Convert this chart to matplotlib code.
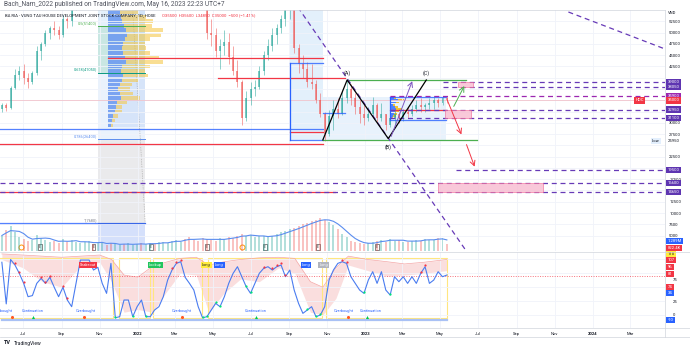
import matplotlib
matplotlib.use("Agg")
import matplotlib.pyplot as plt
import matplotlib.dates as mdates
from matplotlib.patches import Rectangle
from matplotlib.lines import Line2D
from matplotlib.ticker import FuncFormatter
import pandas as pd

plt.rcParams['font.family'] = ['Roboto', 'DejaVu Sans']

# HDC, weekly bars (close of each week)
week_start = '2021-05-28'
first_open = 33000
closes = [34000, 33200, 37800, 40500, 41500, 40000, 39000, 41000, 46000, 47500,
          50000, 51000, 50500, 49500, 53000, 52500, 55500, 57000, 58500, 60000,
          62000, 61000, 63500, 66000, 64500, 62000, 63500, 65000, 63000, 64500,
          67000, 69500, 68000, 71000, 73500, 72000, 74500, 77000, 79000, 82500,
          85000, 88000, 86000, 84500, 81000, 76000, 68000, 50000, 49500, 46000,
          47000, 48000, 44500, 41500, 39000, 31000, 35500, 37500, 38000, 41500,
          45000, 47000, 49500, 51000, 53000, 55000, 55500, 46500, 43000, 42000,
          39000, 38500, 35000, 32000, 27500, 31500, 33000, 32000, 35500, 37500,
          35500, 33500, 32000, 31000, 32000, 34000, 31000, 32000, 29500, 31000,
          32000, 31000, 32500, 32000, 33000, 34000, 33500, 34000, 34500, 35000,
          34500, 35500, 35000]
highs = [34500, 34500, 38200, 42000, 42500, 43000, 41000, 41500, 47000, 48000,
         50500, 51500, 52500, 51500, 54000, 53500, 56000, 58500, 60000, 61500,
         63500, 64000, 65000, 67500, 68000, 65500, 64500, 66000, 66500, 65500,
         68000, 70500, 71000, 72000, 75000, 76000, 76500, 78500, 81000, 84000,
         87000, 90000, 91000, 88000, 86000, 82000, 77000, 69000, 53000, 51000,
         48500, 50500, 50000, 47000, 44000, 39500, 37000, 39000, 39500, 42500,
         46000, 48500, 51000, 52000, 54000, 56000, 57000, 55500, 47500, 45000,
         43500, 43000, 39500, 36600, 32500, 32800, 35000, 35500, 37300, 39500,
         38500, 36500, 35000, 34000, 33500, 35800, 34500, 34500, 32000, 32500,
         33000, 32500, 33000, 33500, 34000, 35000, 35500, 34500, 35500, 36000,
         35500, 36000, 35900]
lows = [32500, 32700, 33000, 37500, 39500, 38500, 37800, 38500, 40500, 44000,
        47000, 48500, 49500, 48500, 49000, 51000, 51500, 55000, 56500, 57500,
        59000, 59500, 60000, 62500, 63000, 59500, 60000, 62000, 61500, 61000,
        63500, 66000, 66500, 67000, 70000, 70500, 71000, 73500, 76000, 78000,
        81500, 84000, 84500, 82000, 79000, 74000, 66000, 48500, 47000, 44500,
        42000, 45000, 43000, 40500, 38000, 29500, 30500, 34000, 36000, 37500,
        40500, 44000, 46000, 47500, 50000, 51500, 53000, 45500, 41000, 40000,
        37900, 37500, 34400, 31400, 25950, 27000, 28400, 31000, 31800, 34400,
        34000, 32000, 30000, 29500, 30500, 31500, 30000, 30500, 28500, 29000,
        29500, 30000, 30500, 31000, 31500, 32500, 32500, 32500, 33000, 33000,
        33500, 34000, 34500]
# volume, millions of shares
volumes = [1.8, 2.4, 2.9, 2.2, 1.6, 1.4, 1.2, 1.3, 1.9, 1.5,
           1.3, 1.1, 1.2, 0.9, 1.4, 1.0, 1.3, 1.1, 0.9, 1.0,
           1.2, 0.8, 0.9, 1.1, 0.7, 0.9, 0.8, 0.7, 0.8, 0.9,
           0.7, 0.8, 0.9, 0.8, 0.9, 0.8, 1.0, 1.1, 0.9, 1.2,
           1.3, 1.1, 1.4, 1.6, 1.3, 1.2, 1.5, 1.4, 1.3, 1.2,
           1.5, 1.4, 1.6, 1.5, 1.8, 2.0, 1.7, 1.9, 1.6, 1.8,
           1.7, 1.6, 1.8, 2.0, 2.2, 2.3, 2.5, 2.7, 2.9, 3.1,
           3.3, 3.5, 3.6, 3.8, 3.6, 3.4, 3.0, 2.6, 2.0, 1.6,
           1.2, 1.0, 0.9, 0.8, 0.9, 1.0, 1.2, 1.3, 1.1, 1.4,
           1.2, 1.3, 1.1, 1.0, 1.2, 1.3, 1.2, 1.4, 1.3, 1.3,
           1.5, 1.5336, 0.8224]
# oscillator (lower pane)
osc = [95, 20, 100, 90, 75, 57, 33, 35, 57, 66,
       57, 68, 50, 33, 50, 27, 15, 57, 99, 99,
       99, 81, 86, 57, 39, 93, -5, -3, 27, 27,
       -3, 15, 27, -3, -3, 9, 15, 33, 63, 81,
       93, 96, 68, 57, 45, 15, -5, -3, 9, 21,
       15, 33, 57, 75, 87, 69, 51, 39, 57, 75,
       84, 87, 81, 87, 90, 69, 81, 45, 21, 3,
       9, 15, -3, 0, 15, 63, 81, 93, 96, 93,
       69, 57, 45, 39, 63, 78, 57, 78, 45, 36,
       69, 60, 69, 57, 69, 57, 75, 87, 57, 63,
       78, 69, 72]
band_dates = ['2021-05-28', '2021-07-01', '2021-08-01', '2021-09-01', '2021-10-01', '2021-11-01',
              '2021-11-20', '2021-12-10', '2022-01-01', '2022-01-25', '2022-02-15', '2022-03-10',
              '2022-04-05', '2022-04-25', '2022-05-20', '2022-06-15', '2022-07-15', '2022-08-15',
              '2022-09-10', '2022-10-05', '2022-10-25', '2022-11-15', '2022-12-05', '2023-01-05',
              '2023-02-05', '2023-03-05', '2023-04-05', '2023-05-12']
band_hi = [110, 108, 106, 104, 106, 108, 100, 72, 68, 88, 95, 102, 104, 90,
           96, 100, 103, 104, 102, 60, 50, 85, 106, 100, 96, 92, 95, 100]
band_lo = [100, 85, 60, 50, 88, 95, 60, 5, 10, 5, 40, 75, 72, 5,
           40, 65, 60, 85, 75, 5, 0, 30, 90, 80, 70, 72, 75, 80]
red_dot_weeks = [3, 4, 5, 9, 10, 11, 14, 15, 39, 40, 41, 60, 62, 63, 64, 65, 78, 79, 96, 97]
green_dot_weeks = [26, 30, 33, 46, 47, 49, 50, 56, 57, 70, 72, 73, 83, 89]

# drawn levels
target_levels = [39000, 38050, 35900, 32950, 31100, 19500, 16600, 14650]
target_starts = ['2023-05-06', '2023-05-06', '2023-02-10', '2023-02-10', '2023-02-10',
                 '2023-05-27', '2021-05-25', '2021-05-25']
red_lines = [('2021-11-15', '2022-10-25', 44370), ('2022-05-10', '2022-11-30', 39930),
             ('2021-05-25', '2022-10-25', 25300), ('2021-05-25', '2022-11-14', 14650),
             ('2023-02-10', '2023-05-11', 32950), ('2022-09-02', '2022-10-25', 27960)]
blue_lines = [('2021-05-25', '2022-10-25', 28700), ('2021-05-25', '2022-01-13', 7680),
              ('2022-09-02', '2022-10-25', 43260), ('2022-10-25', '2022-11-30', 32180),
              ('2022-09-02', '2022-10-25', 26200), ('2023-02-10', '2023-05-11', 35720),
              ('2023-02-10', '2023-05-11', 30620)]
fib_levels = [51400, 41050, 26400, 7680]
fib_names = ['0.5', '0.618', '0.786', '1']
fib_start, fib_end = '2021-10-30', '2022-01-13'

# profile of the Nov 2021 - Jan 2022 range
vp_start = '2021-11-15'
vp_prices = [54500, 53500, 52500, 51500, 50500, 49500, 48500, 47500, 46500, 45500, 44500, 43500, 42500,
             41500, 40500, 39500, 38500, 37500, 36500, 35500, 34500, 33500, 32500, 31500, 30500, 29500]
vp_up = [18, 20, 22, 25, 28, 30, 26, 24, 22, 24, 26, 28, 22, 20, 24, 22, 18, 16, 18, 20, 14, 12, 10, 8, 6, 4]
vp_down = [30, 40, 50, 45, 60, 55, 40, 35, 38, 42, 55, 60, 45, 38, 40, 25, 20, 18, 22, 30, 15, 10, 12, 8, 5, 3]
# small profile of the Feb - May 2023 range
vp2_start = '2023-02-10'
vp2_prices = [31000, 31500, 32000, 32500, 33000, 33500, 34000, 34500, 35000, 35500]
vp2_up = [3, 5, 6, 8, 10, 7, 5, 9, 12, 6]
vp2_down = [2, 4, 5, 7, 9, 5, 3, 6, 10, 4]

wave_dates = ['2022-10-25', '2022-12-03', '2023-02-07', '2023-04-09']
wave_prices = [26200, 39500, 26500, 39500]
wave_names = ['', '(A)', '(B)', '(C)']

arrows = [('2023-02-10', 26400, '2023-03-19', 39800, '#7e57c2'),
          ('2023-05-21', 33100, '2023-06-11', 38700, '#4caf50'),
          ('2023-05-11', 35600, '2023-06-06', 26850, '#f23645'),
          ('2023-06-11', 25750, '2023-06-27', 19700, '#f23645')]
zones = [('2023-05-30', '2023-06-23', 38050, 39000), ('2023-05-09', '2023-06-20', 31100, 32950),
         ('2023-04-27', '2023-10-14', 14650, 16600)]
diag_lines = [('2022-09-07', 57230, '2023-06-11', 1800), ('2023-11-23', 54570, '2024-04-26', 46370)]

event_dates = ['2021-07-28', '2021-10-22', '2022-01-22', '2022-04-22', '2022-07-24', '2022-10-17', '2023-01-20']
split_dates = ['2021-06-27', '2022-06-17']

osc_notes = [('2021-05-30', 'Overbought'), ('2021-07-17', 'Continuation'), ('2021-10-09', 'Overbought'),
             ('2022-03-13', 'Overbought'), ('2022-07-09', 'Continuation'), ('2022-11-28', 'Overbought'),
             ('2023-01-10', 'Continuation')]
signal_tags = [('2021-10-13', 'Shakeout', '#f23645'), ('2022-01-29', 'Lookup', '#22c55e'),
               ('2022-04-21', 'Long', '#ffeb3b'), ('2022-05-12', 'Long', '#2962ff'),
               ('2022-09-28', 'Long', '#2962ff'), ('2022-10-26', 'Long', '#b2b5be')]
sell_dates = ['2021-06-14', '2021-10-06', '2022-03-13', '2022-12-05']
cont_dates = ['2021-07-17', '2022-07-09', '2023-01-04']
yellow_zones = [('2021-05-20', '2021-11-23'), ('2021-12-02', '2022-01-21'), ('2022-01-26', '2022-04-14'),
                ('2022-04-24', '2022-10-24'), ('2022-10-30', '2023-05-12')]
osc_tags = [('110', 110, '#ffeb3b'), ('107', 99, '#f23645'), ('96', 86.5, '#f23645'), ('81', 74, '#f23645'),
            ('75', 63, None), ('74', 50.5, '#f23645'), ('34', 39.6, '#2962ff'), ('25', 23.4, None),
            ('0', 0, None), ('-10', -9, '#2962ff')]

UP, DN = '#26a69a', '#ef5350'
PURPLE = '#673ab7'
FS = 3.0
d = mdates.datestr2num

fig = plt.figure(figsize=(6.9, 3.5), dpi=100)
ax = fig.add_axes([0, 1 - 251 / 350, 665 / 690, 241 / 350])
oax = fig.add_axes([0, 1 - 328 / 350, 665 / 690, 76 / 350], sharex=ax)

dates = pd.date_range(week_start, periods=len(closes), freq='7D')
opens = [first_open] + closes[:-1]
colors = [UP if c >= o else DN for o, c in zip(opens, closes)]

# background zones
fills = [(56000, 51400, '#dcebfa'), (51400, 41050, '#b7e0da'), (41050, 26400, '#e3eefb'),
         (26400, 7680, '#e4e4e6'), (7680, 1500, '#c7d6fa')]
for top, bot, c in fills:
    ax.add_patch(Rectangle((d(fib_start), bot), d(fib_end) - d(fib_start), top - bot, color=c, alpha=0.75, lw=0, zorder=0))
ax.add_patch(Rectangle((d(vp_start), 29000), d(fib_end) - d(vp_start), 27000, color='#c9dcf7', alpha=0.6, lw=0, zorder=0))
ax.add_patch(Rectangle((d('2022-09-02'), 26200), d('2022-10-25') - d('2022-09-02'), 31000, color='#e3f0fb', lw=0, zorder=0))
ax.add_patch(Rectangle((d('2022-10-25'), 26200), d('2023-05-11') - d('2022-10-25'), 35720 - 26200, color='#e8f2fc', lw=0, zorder=0))
ax.plot([d('2021-12-24'), d(fib_end)], [55000, 7680], color='#9e9e9e', ls=(0, (1, 1.5)), lw=0.5, zorder=1)

# volume profiles
ax.barh(vp_prices, vp_up, left=d(vp_start), height=850, color='#5b8def', alpha=0.75, lw=0, zorder=1)
ax.barh(vp_prices, vp_down, left=[d(vp_start) + u for u in vp_up], height=850, color='#f5c94c', alpha=0.6, lw=0, zorder=1)
ax.barh(vp2_prices, vp2_up, left=d(vp2_start), height=420, color='#2962ff', alpha=0.8, lw=0, zorder=1)
ax.barh(vp2_prices, vp2_down, left=[d(vp2_start) + u for u in vp2_up], height=420, color='#f5b800', alpha=0.8, lw=0, zorder=1)

# candles
ax.vlines(dates, lows, highs, colors=colors, lw=0.6, alpha=0.6, zorder=3)
ax.bar(dates, [max(abs(c - o), 150) for o, c in zip(opens, closes)], bottom=[min(o, c) for o, c in zip(opens, closes)],
       width=3.2, color=colors, alpha=0.6, lw=0, zorder=3)
ax.axhline(closes[-1], color='#f23645', lw=0.6, alpha=0.25, zorder=2)

# fib levels
fib_colors = ['#4caf50', '#089981', '#5b8def', '#787b86']
for lvl, name, c in zip(fib_levels, fib_names, fib_colors):
    ax.plot([d(fib_start), d(fib_end)], [lvl, lvl], color=c, lw=0.7, zorder=2)
    ax.text(d(fib_start) - 2, lvl + 300, f'{name}({lvl})', color=c, fontsize=FS - 0.2, ha='right', va='bottom', zorder=6)

for s, e, p in red_lines:
    ax.plot([d(s), d(e)], [p, p], color='#f23645', lw=0.9, zorder=4)
for s, e, p in blue_lines:
    ax.plot([d(s), d(e)], [p, p], color='#2962ff', lw=0.9, alpha=0.8, zorder=4)
ax.plot([d('2022-09-02')] * 2, [26200, 43260], color='#2962ff', lw=0.9, zorder=4)
ax.plot([d('2023-02-10')] * 2, [30620, 35720], color='#2962ff', lw=0.9, zorder=4)

# channel of the ABC move
ax.plot([d(wave_dates[1]), d('2023-06-12')], [wave_prices[1]] * 2, color='#4caf50', lw=0.9, zorder=4)
ax.plot([d(wave_dates[0]), d('2023-06-30')], [26300, 26300], color='#4caf50', lw=0.9, zorder=4)
ax.plot([d(x) for x in wave_dates], wave_prices, color='black', lw=0.9, zorder=5)
for wd, wp, name in zip(wave_dates, wave_prices, wave_names):
    if name:
        off = -6 if name == '(B)' else 5
        ax.annotate(name, (d(wd), wp), xytext=(0, off), textcoords='offset points', ha='center', va='center',
                    fontsize=3.8, color='#131722', zorder=6)

for s, lvl in zip(target_starts, target_levels):
    ax.plot([d(s), d('2024-04-30')], [lvl, lvl], color='#9c27b0' if lvl == 35900 else PURPLE,
            ls=(0, (4, 3)), lw=0.9, zorder=4)
for s, e, lo, hi in zones:
    ax.add_patch(Rectangle((d(s), lo), d(e) - d(s), hi - lo, fc='#f8bbd0', ec='#f06292', lw=0.5, alpha=0.8, zorder=4))
for x0, y0, x1, y1 in diag_lines:
    ax.plot([d(x0), d(x1)], [y0, y1], color=PURPLE, ls=(0, (4, 3)), lw=0.9, zorder=4)
for x0, y0, x1, y1, c in arrows:
    ax.annotate('', xy=(d(x1), y1), xytext=(d(x0), y0),
                arrowprops=dict(arrowstyle='->,head_length=0.35,head_width=0.18', color=c, lw=0.7), zorder=5)

# volume pane inside price pane
vax = ax.twinx()
vol_ma = pd.Series(volumes).rolling(4, min_periods=1).mean()
vax.bar(dates, volumes, width=3.2, color=colors, alpha=0.35, lw=0)
vax.plot(dates, vol_ma, color='#5b8def', lw=0.8)
vax.set_ylim(0, 28)
vax.axis('off')

for ed in event_dates:
    ax.text(d(ed), 2460, 'E', fontsize=2.5, ha='center', va='center', color='#333', zorder=7,
            bbox=dict(boxstyle='square,pad=0.25', fc='white', ec='#555', lw=0.5))
for sd in split_dates:
    ax.plot(d(sd), 2460, 'o', ms=3.6, mfc='white', mec='#ff9800', mew=0.7, zorder=7)

ax.set_xlim(d('2021-05-25'), d('2024-04-26'))
ax.set_ylim(1578, 55014)
ax.yaxis.tick_right()
price_ticks = list(range(5000, 55000, 2500))
hidden = {40000, 37500, 35000, 32500, 25000, 20000, 15000}
ax.set_yticks(price_ticks)
ax.set_yticklabels(['' if t in hidden else str(t) for t in price_ticks])
ax.tick_params(axis='y', length=0, labelsize=FS, pad=3, colors='#131722')
ax.tick_params(axis='x', length=0, labelbottom=False)
ax.grid(True, color='#f0f3fa', lw=0.6, zorder=-1)
for sp in ax.spines.values():
    sp.set_visible(False)


def tag(a, y, text, fc, tc='white', x=1.004):
    a.text(x, y, text, transform=a.get_yaxis_transform(), fontsize=FS, color=tc, ha='left', va='center',
           clip_on=False, zorder=8, bbox=dict(boxstyle='square,pad=0.3', fc=fc, ec='none'))


for lvl in target_levels:
    tag(ax, lvl, str(lvl), '#9c27b0' if lvl == 35900 else '#5e35b1')
tag(ax, closes[-1], str(closes[-1]), '#f23645')
ax.text(0.962, closes[-1], 'HDC', transform=ax.get_yaxis_transform(), fontsize=FS, color='white', ha='center',
        va='center', zorder=8, bbox=dict(boxstyle='square,pad=0.3', fc='#f23645', ec='none'))
tag(ax, min(lows), str(min(lows)), 'white', '#131722')
ax.text(0.992, min(lows), 'Low', transform=ax.get_yaxis_transform(), fontsize=FS, color='#131722', ha='right',
        va='center', zorder=8, bbox=dict(boxstyle='square,pad=0.3', fc='#e3effd', ec='none'))
ax.text(1.004, 54300, 'VND', transform=ax.get_yaxis_transform(), fontsize=FS, color='#131722', va='center', clip_on=False)
vax.annotate(f'{vol_ma.iloc[-1]:.3f}M', (1.004, vol_ma.iloc[-1]), xycoords=vax.get_yaxis_transform(),
             xytext=(0, -0.8), textcoords='offset points', fontsize=FS, color='white', va='center', annotation_clip=False,
             bbox=dict(boxstyle='square,pad=0.3', fc='#2962ff', ec='none'))
vax.annotate(f'{volumes[-1] * 1000:.1f}K', (1.004, volumes[-1]), xycoords=vax.get_yaxis_transform(),
             xytext=(0, -2.8), textcoords='offset points', fontsize=FS, color='white', va='center', annotation_clip=False,
             bbox=dict(boxstyle='square,pad=0.3', fc='#f23645', ec='none'))

# oscillator pane
oax.fill_between([d(x) for x in band_dates], band_lo, band_hi, color='#f8c9c9', alpha=0.6, lw=0)
oax.plot([d(x) for x in band_dates], band_hi, color='#f4a6a6', lw=0.5)
for s, e in yellow_zones:
    oax.add_patch(Rectangle((d(s), -5), d(e) - d(s), 108, fc='none', ec='#ffe680', lw=0.8, zorder=1))
oax.axhline(70, color='#f23645', ls=(0, (1, 1.5)), lw=0.7, alpha=0.7)
oax.plot([dates[0], dates[-1]], [-9, -9], color='#a9c1f5', lw=1.6, zorder=2)
oax.plot(dates, osc, color='#4a7cf0', lw=0.8, zorder=3)
oax.scatter(dates[red_dot_weeks], [osc[i] + 3 for i in red_dot_weeks], s=2.5, color='#f23645', zorder=4, lw=0)
oax.scatter(dates[green_dot_weeks], [osc[i] + 2 for i in green_dot_weeks], s=2.5, color='#00e676', zorder=4, lw=0)
oax.scatter([d(x) for x in sell_dates], [-3] * len(sell_dates), s=5, color='#ff5722', zorder=4, lw=0)
oax.scatter([d(x) for x in cont_dates], [-3] * len(cont_dates), s=5, marker='^', color='#00c853', zorder=4, lw=0)
for nd, note in osc_notes:
    oax.text(d(nd), 7, note, fontsize=FS - 0.2, color='#2962ff', ha='center', va='center', zorder=5)
for sd, label, c in signal_tags:
    oax.text(d(sd), 90, label, fontsize=FS - 0.2, color='#131722' if c == '#ffeb3b' else 'white', ha='center',
             va='center', zorder=6, bbox=dict(boxstyle='square,pad=0.3', fc=c, ec='none'))
oax.set_ylim(-23.4, 113.5)
oax.set_yticks([0, 25, 50, 75, 100])
oax.yaxis.tick_right()
oax.set_yticklabels([])
oax.tick_params(axis='y', length=0)
for text, y, fc in osc_tags:
    if fc is None:
        oax.text(1.012, y, text, transform=oax.get_yaxis_transform(), fontsize=FS, color='#131722', va='center', clip_on=False)
    else:
        tag(oax, y, text, fc, '#131722' if fc == '#ffeb3b' else 'white')


def month_label(x, pos):
    t = mdates.num2date(x)
    return str(t.year) if t.month == 1 else t.strftime('%b')


oax.xaxis.set_major_locator(mdates.MonthLocator(bymonth=[1, 3, 5, 7, 9, 11]))
oax.xaxis.set_major_formatter(FuncFormatter(month_label))
oax.tick_params(axis='x', length=0, labelsize=FS, pad=3, colors='#131722')
oax.grid(True, color='#f0f3fa', lw=0.6, zorder=-1)
for sp in oax.spines.values():
    sp.set_visible(False)
fig.canvas.draw()
for lbl in oax.get_xticklabels():
    if lbl.get_text().isdigit():
        lbl.set_fontweight('bold')

# pane borders and captions
for y in (10, 251.5, 328, 337):
    fig.add_artist(Line2D([0, 1 if y != 10 else 665 / 690], [1 - y / 350] * 2, color='#d1d4dc', lw=0.5))
fig.add_artist(Line2D([665 / 690] * 2, [1 - 10 / 350, 1 - 337 / 350], color='#d1d4dc', lw=0.5))
fig.text(4 / 690, 1 - 5 / 350, 'Bach_Nam_2022 published on TradingView.com, May 16, 2023 22:23 UTC+7',
         fontsize=4.7, color='#50535e', va='center')
fig.text(5 / 690, 1 - 15 / 350, 'BA RIA - VUNG TAU HOUSE DEVELOPMENT JOINT STOCK COMPANY, 1D, HOSE',
         fontsize=3.1, color='#131722', va='center')
fig.text(162 / 690, 1 - 15 / 350, 'O35500  H35600  L34850  C35000  −500 (−1.41%)',
         fontsize=3.1, color='#f23645', va='center')
fig.text(4 / 690, 1 - 343 / 350, 'TV', fontsize=4, fontweight='bold', color='#131722', va='center')
fig.text(14 / 690, 1 - 343 / 350, 'TradingView', fontsize=3.6, color='#131722', va='center')

plt.savefig('out.png', dpi=100, facecolor='white')
